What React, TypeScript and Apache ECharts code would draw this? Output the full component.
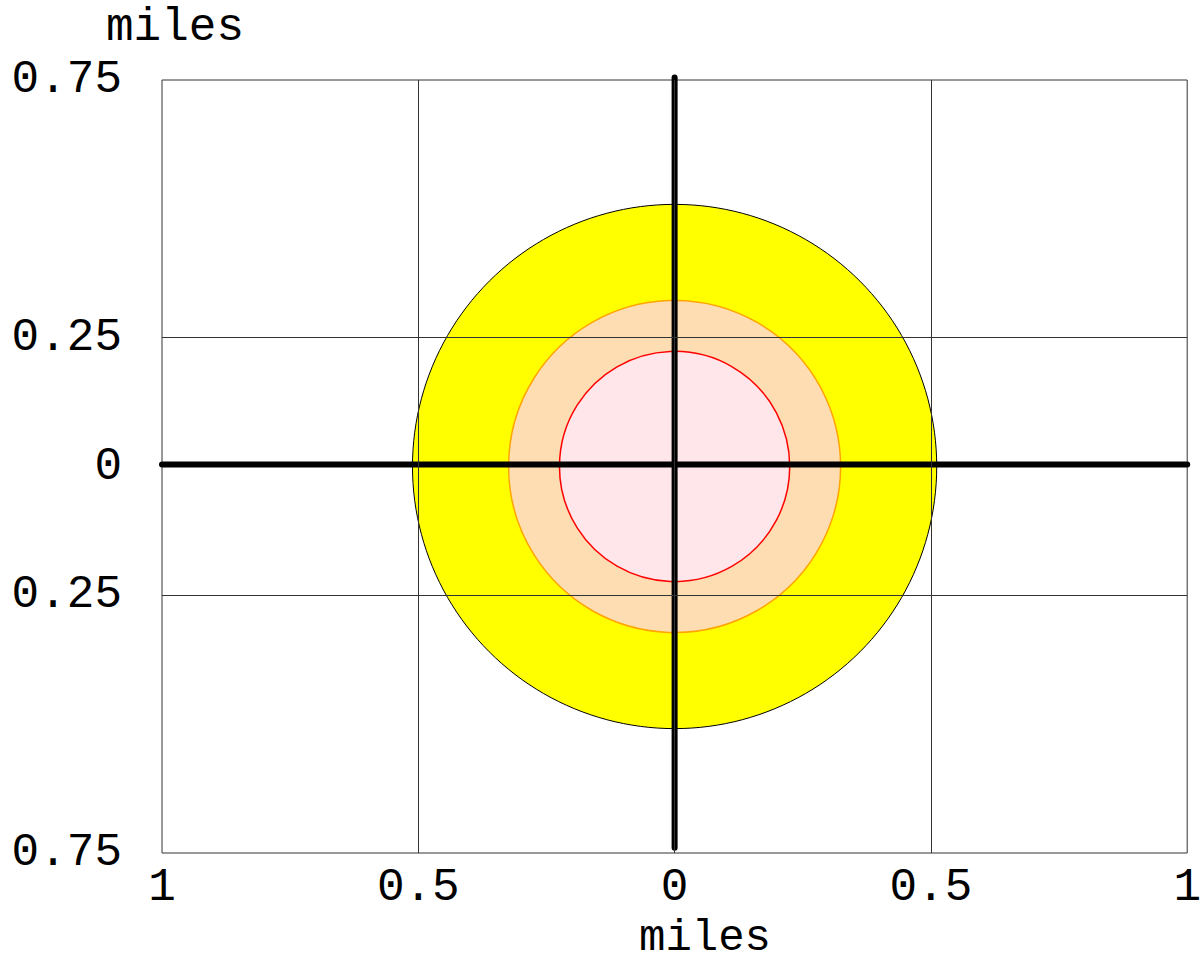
import React, { useEffect, useRef } from "react";
import * as echarts from "echarts";

// Zone radii in miles (outer to inner)
const zoneNames = ["outer", "middle", "inner"];
const zoneRadii = [0.51, 0.323, 0.224];
const zoneFills = ["#FFFF00", "#FFDDB3", "#FFE6EA"];
const zoneStrokes = ["#000000", "#FFA500", "#FF0000"];

// Grid lines (miles)
const xGridLines = [-0.5, 0, 0.5];
const yGridLines = [0.25, -0.25];
const yLabelValues = [0.75, 0.25, 0, -0.25, -0.75];

// Crosshair axes
const hLine = [[-1, 0.004], [1, 0.004]];
const vLine = [[0, 0.755], [0, -0.74]];

const FONT = "'Liberation Mono', 'Courier New', monospace";
const FS = 46;

export default function App() {
  const ref = useRef<HTMLDivElement>(null);
  useEffect(() => {
    if (!ref.current) return;
    const chart = echarts.init(ref.current, undefined, { renderer: "svg" });
    const labelStyle = { fontFamily: FONT, fontSize: FS, color: "#000" };
    chart.setOption({
      animation: false,
      backgroundColor: "#fff",
      grid: {
        left: 162,
        right: 12,
        top: 80,
        bottom: 110,
        show: true,
        borderColor: "#333",
        borderWidth: 1,
        backgroundColor: "transparent",
      },
      xAxis: {
        type: "value",
        min: -1,
        max: 1,
        interval: 0.5,
        axisLine: { show: false },
        axisTick: { show: false },
        splitLine: { show: false },
        axisLabel: {
          ...labelStyle,
          margin: 12,
          formatter: (v: number) => String(Math.abs(v)),
        },
      },
      yAxis: {
        type: "value",
        min: -0.75,
        max: 0.75,
        interval: 0.25,
        axisLine: { show: false },
        axisTick: { show: false },
        splitLine: { show: false },
        axisLabel: {
          ...labelStyle,
          margin: 40,
          formatter: (v: number) =>
            yLabelValues.some((y) => Math.abs(y - v) < 1e-9) ? String(Math.abs(v)) : "",
        },
      },
      graphic: [
        {
          type: "text",
          x: 175,
          y: 28,
          style: { text: "miles", font: `${FS}px ${FONT}`, fill: "#000", align: "center", verticalAlign: "middle" },
        },
        {
          type: "text",
          x: 705,
          y: 938,
          style: { text: "miles", font: `44px ${FONT}`, fill: "#000", align: "center", verticalAlign: "middle" },
        },
      ],
      series: [
        {
          type: "custom",
          name: "zones",
          z: 2,
          data: zoneRadii.map((r, i) => ({ name: zoneNames[i], value: [0, 0, r] })),
          renderItem: (params: any, api: any) => {
            const c = api.coord([api.value(0), api.value(1)]);
            const s = api.size([api.value(2), api.value(2)]);
            const i = params.dataIndex;
            return {
              type: "circle",
              shape: { cx: c[0], cy: c[1], r: (s[0] + s[1]) / 2 },
              style: { fill: zoneFills[i], stroke: zoneStrokes[i], lineWidth: i === 0 ? 1 : 1.5 },
            };
          },
        },
        {
          type: "line",
          name: "grid",
          z: 3,
          data: [],
          markLine: {
            silent: true,
            symbol: "none",
            label: { show: false },
            lineStyle: { color: "#333", width: 1, type: "solid" },
            data: [
              ...xGridLines.map((x) => ({ xAxis: x })),
              ...yGridLines.map((y) => ({ yAxis: y })),
            ],
          },
        },
        {
          type: "line",
          name: "hAxis",
          z: 4,
          clip: false,
          symbol: "none",
          data: hLine,
          lineStyle: { color: "#000", width: 6, cap: "round" },
        },
        {
          type: "line",
          name: "vAxis",
          z: 4,
          clip: false,
          symbol: "none",
          data: vLine,
          lineStyle: { color: "#000", width: 6, cap: "round" },
        },
      ],
    });
    return () => chart.dispose();
  }, []);
  return <div ref={ref} style={{ width: 1204, height: 963, position: "absolute", left: 0, top: 0 }} />;
}
